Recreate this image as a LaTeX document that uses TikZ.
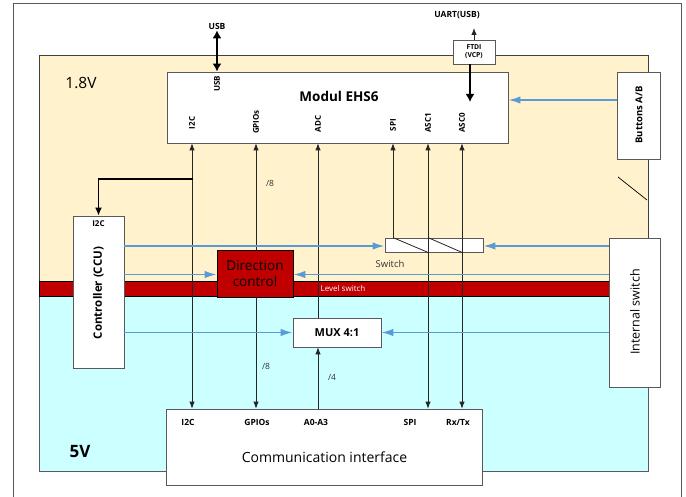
\documentclass[tikz,border=0pt]{standalone}
\usepackage{fontspec}
\setmainfont{Open Sans}
\usetikzlibrary{arrows.meta}
\definecolor{beige}{HTML}{FFF2CC}
\definecolor{cyanbg}{HTML}{CCFFFF}
\definecolor{darkred}{HTML}{C00000}
\definecolor{sigblue}{HTML}{5B9BD5}
\definecolor{boxgray}{HTML}{595959}
\definecolor{linegray}{HTML}{262626}
\begin{document}
\begin{tikzpicture}[x=1pt,y=-1pt,
  box/.style={draw=boxgray, line width=0.8pt, fill=white, inner sep=0pt},
  lbl/.style={font=\bfseries\fontsize{8}{9}\selectfont, inner sep=1pt},
  clbl/.style={font=\bfseries\fontsize{8.5}{9}\selectfont, inner sep=1pt},
  sig/.style={draw=linegray, line width=0.8pt},
  tipe/.style={-{Latex[length=7pt,width=5.5pt]}},
  tipb/.style={{Latex[length=7pt,width=5.5pt]}-{Latex[length=7pt,width=5.5pt]}},
  fat/.style={draw=black, line width=2.6pt},
  bluearr/.style={draw=sigblue, line width=1.8pt, -{Latex[length=12pt,width=7.5pt]}},
  wlbl/.style={font=\fontsize{8.5}{9}\selectfont, text=black!80}]
\useasboundingbox (0,0) rectangle (686,497);
\fill[white] (0,0) rectangle (686,497);
% frame and regions
\draw[draw=boxgray, line width=1pt] (13,497) -- (13,4) -- (681,4) -- (681,497);
\filldraw[fill=beige, draw=black!75, line width=0.8pt] (39,55) rectangle (648,281);
\filldraw[fill=cyanbg, draw=boxgray, line width=0.8pt] (39,296) rectangle (648,471);
\filldraw[fill=darkred, draw=black, line width=0.8pt] (39,281) rectangle (609,296);
\node[font=\fontsize{8}{9}\selectfont, text=white] (lvl) at (343,289) {Level switch};
\node[font=\fontsize{15.5}{17}\selectfont] (v18) at (81,83) {1.8V};
\node[font=\bfseries\fontsize{17}{19}\selectfont] (v5) at (80,452) {5V};

% main boxes
\node[box, minimum width=341pt, minimum height=71pt] (mod) at (337.5,107.5) {};
\node[font=\bfseries\fontsize{13.5}{16}\selectfont] (modt) at (339,96) {Modul EHS6};
\node[lbl, rotate=90] (musb) at (217,84) {USB};
\node[lbl, rotate=90] (mi2c) at (192,123) {I2C};
\node[lbl, rotate=90] (mgpio) at (256,122) {GPIOs};
\node[lbl, rotate=90] (madc) at (318,124) {ADC};
\node[lbl, rotate=90] (mspi) at (393,125) {SPI};
\node[lbl, rotate=90] (masca) at (428,123) {ASC1};
\node[lbl, rotate=90] (mascb) at (462,123) {ASC0};

\node[box, minimum width=43pt, minimum height=87pt] (btn) at (638.5,115.5) {};
\node[font=\bfseries\fontsize{9.5}{12}\selectfont, rotate=90] (btnt) at (639,115) {Buttons A/B};

\node[box, minimum width=42pt, minimum height=24pt, font=\bfseries\fontsize{6.8}{8}\selectfont, align=center] (ftdi) at (474,52) {FTDI\\(VCP)};
\node[clbl] (usbt) at (217,26) {USB};
\node[clbl] (uart) at (457,15) {UART(USB)};

\node[box, minimum width=51pt, minimum height=152pt] (ctrl) at (98.5,292) {};
\node[lbl] (ci2c) at (98.5,224) {I2C};
\node[font=\bfseries\fontsize{11.5}{14}\selectfont, rotate=90] (ctrlt) at (98.5,293) {Controller (CCU)};

\node[box, minimum width=51pt, minimum height=149pt] (isw) at (634.5,312.5) {};
\node[font=\fontsize{12.5}{15}\selectfont, rotate=90] (iswt) at (635,312) {Internal switch};

\node[box, minimum width=316pt, minimum height=76pt] (comm) at (324,447) {};
\node[clbl] (ci2c2) at (188,422) {I2C};
\node[clbl] (cgpio) at (257,422) {GPIOs};
\node[clbl] (ca03) at (316,422) {A0-A3};
\node[clbl] (cspi) at (410,422) {SPI};
\node[clbl] (crx) at (458,422) {Rx/Tx};
\node[font=\fontsize{14}{16}\selectfont] (commt) at (324.5,457) {Communication interface};

\node[draw=black, line width=0.8pt, fill=darkred, minimum width=76pt, minimum height=47pt, inner sep=0pt, align=center, font=\fontsize{13.5}{16}\selectfont, text=black] (dir) at (255,273.5) {Direction\\control};
\node[box, minimum width=88pt, minimum height=29pt, font=\bfseries\fontsize{11}{12}\selectfont] (mux) at (337,332.5) {MUX 4:1};
\node[box, minimum width=98pt, minimum height=14pt] (sw) at (434,245) {};
\node[font=\fontsize{9.5}{10}\selectfont, text=black!80] (swt) at (390,264) {Switch};

% bus width labels
\node[wlbl] (w8a) at (270,183) {/8};
\node[wlbl] (w8b) at (266,366) {/8};
\node[wlbl] (w4) at (332,377) {/4};

% vertical signal lines
\draw[sig, tipb] (comm.north -| mi2c) -- (mod.south -| mi2c);
\draw[sig, tipe] (dir.north -| mgpio) -- (mod.south -| mgpio);
\draw[sig, tipe] (dir.south -| mgpio) -- (comm.north -| mgpio);
\draw[sig, tipe] (mux.north -| madc) -- (mod.south -| madc);
\draw[sig, tipe] (comm.north -| madc) -- (mux.south -| madc);
\draw[sig, tipe] (sw.north -| mspi) -- (mod.south -| mspi);
\draw[sig, tipb] (comm.north -| masca) -- (mod.south -| masca);
\draw[sig, tipb] (comm.north -| mascb) -- (mod.south -| mascb);
\draw[sig] (sw.north -| mspi) -- (sw.south -| masca);
\draw[sig] (sw.north -| masca) -- (sw.south -| mascb);

% I2C branch to controller
\coordinate (br) at (193,179);
\draw[draw=black, line width=1.4pt, -{Latex[length=8pt,width=7pt]}] (br) -| (ctrl.north);

% USB and FTDI
\draw[fat, {Latex[length=8pt,width=9pt]}-{Latex[length=8pt,width=9pt]}] (usbt.south) -- (mod.north -| usbt);
\coordinate (uarttip) at (474,28);
\draw[sig, tipe] (ftdi.north) -- (uarttip);
\coordinate (asctip) at (470,102);
\draw[fat, -{Latex[length=8pt,width=9pt]}] (ftdi.south -| asctip) -- (asctip);

% diagonal mark
\coordinate (da) at (618,177);
\coordinate (db) at (647,200);
\draw[draw=black, line width=0.7pt] (da) -- (db);

% blue control arrows
\coordinate (yb0) at (0,100);
\coordinate (ya) at (0,246);
\coordinate (yb) at (0,274.5);
\coordinate (yc) at (0,332.5);
\draw[bluearr] (btn.west |- yb0) -- (mod.east |- yb0);
\draw[bluearr] (ctrl.east |- ya) -- (sw.west |- ya);
\draw[bluearr] (isw.west |- ya) -- (sw.east |- ya);
\draw[bluearr] (ctrl.east |- yb) -- (dir.west |- yb);
\draw[bluearr] (isw.west |- yb) -- (dir.east |- yb);
\draw[bluearr] (ctrl.east |- yc) -- (mux.west |- yc);
\draw[bluearr] (isw.west |- yc) -- (mux.east |- yc);
\end{tikzpicture}
\end{document}
